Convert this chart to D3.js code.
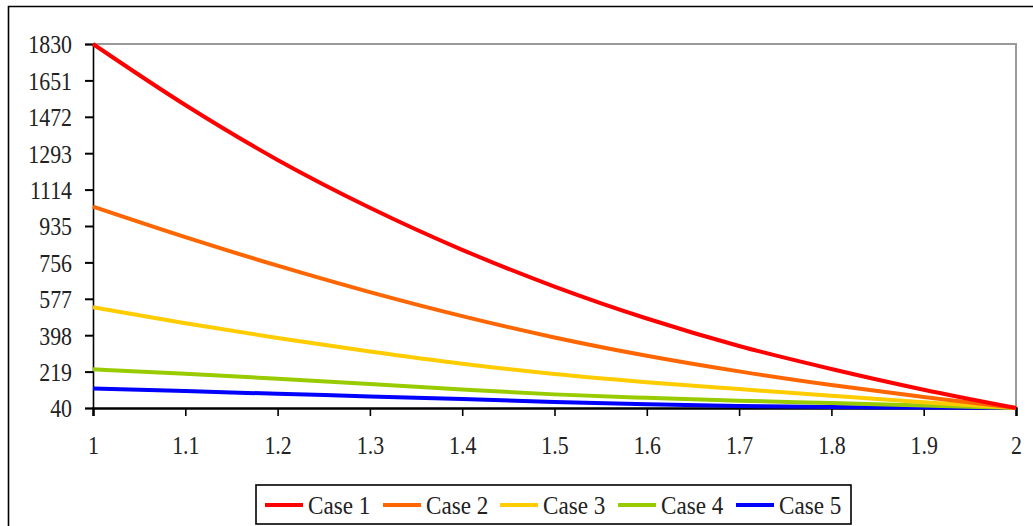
<!DOCTYPE html>
<html>
<head>
<meta charset="utf-8">
<script src="https://cdn.jsdelivr.net/npm/d3@7"></script>
<style>
  html, body { margin: 0; padding: 0; background: #fff; }
  svg { display: block; }
  text { font-family: "Liberation Serif", "Times New Roman", serif; fill: #222; }
</style>
</head>
<body>
<svg id="chart" width="1033" height="526"></svg>
<script>
// x positions and tick labels
const xValues = [1, 1.1, 1.2, 1.3, 1.4, 1.5, 1.6, 1.7, 1.8, 1.9, 2];
const xTickLabels = ["1", "1.1", "1.2", "1.3", "1.4", "1.5", "1.6", "1.7", "1.8", "1.9", "2"];
const yTickValues = [40, 219, 398, 577, 756, 935, 1114, 1293, 1472, 1651, 1830];

// series values
const seriesNames = ["Case 1", "Case 2", "Case 3", "Case 4", "Case 5"];
const case1 = [1830, 1530, 1260, 1025, 818, 637, 480, 345, 232, 130, 40];
const case2 = [1030, 880, 740, 610, 492, 387, 297, 220, 153, 94, 40];
const case3 = [535, 457, 384, 318, 258, 207, 167, 133, 100, 68, 40];
const case4 = [230, 208, 184, 158, 131, 107, 90, 76, 64, 52, 40];
const case5 = [136, 123, 110, 97, 84, 70, 58, 50, 45, 42, 40];
const seriesColors = ["#ff0000", "#ff6600", "#ffcc00", "#99cc00", "#0000ff"];

const allSeries = [case1, case2, case3, case4, case5];

const svg = d3.select("#chart");
const plot = { left: 93, right: 1016, top: 44, bottom: 408 };
const fontFamily = "Liberation Serif, Times New Roman, serif";

// outer frame (open on the right and bottom edges of the canvas)
svg.append("path")
  .attr("d", "M8.5,540 L8.5,6.5 L1040,6.5")
  .attr("fill", "none").attr("stroke", "#000").attr("stroke-width", 1.6);

const x = d3.scaleLinear().domain([1, 2]).range([plot.left, plot.right]);
const y = d3.scaleLinear().domain([40, 1830]).range([plot.bottom, plot.top]);

// grey top and right edges of the plot area
svg.append("path")
  .attr("d", `M${plot.left},${plot.top} L${plot.right},${plot.top} L${plot.right},${plot.bottom}`)
  .attr("fill", "none").attr("stroke", "#9a9a9a").attr("stroke-width", 2);

const squeeze = 0.84;

// y axis
const yAxis = svg.append("g")
  .attr("transform", `translate(${plot.left},0)`)
  .call(d3.axisLeft(y).tickValues(yTickValues).tickSize(8).tickPadding(13).tickFormat(d3.format("d")));
yAxis.select(".domain").attr("stroke", "#000").attr("stroke-width", 1.6);
yAxis.selectAll(".tick line").attr("stroke", "#000").attr("stroke-width", 2);
yAxis.selectAll(".tick text")
  .attr("font-size", 26)
  .attr("font-family", fontFamily)
  .attr("fill", "#222")
  .attr("dy", "0.34em")
  .attr("transform", function () {
    const tx = +d3.select(this).attr("x");
    return `translate(${tx * (1 - squeeze)},0) scale(${squeeze},1)`;
  });

// x axis
const xAxis = svg.append("g")
  .attr("transform", `translate(0,${plot.bottom})`)
  .call(d3.axisBottom(x).tickValues(xValues).tickSize(8).tickPadding(20)
    .tickFormat((d, i) => xTickLabels[i]));
xAxis.select(".domain").attr("stroke", "#000").attr("stroke-width", 2.4);
xAxis.selectAll(".tick line").attr("stroke", "#000").attr("stroke-width", 1.6);
xAxis.selectAll(".tick text")
  .attr("font-size", 26)
  .attr("font-family", fontFamily)
  .attr("fill", "#222")
  .attr("transform", `scale(${squeeze},1)`)
  .attr("x", 0);

// series lines
const line = d3.line()
  .x((d, i) => x(xValues[i]))
  .y(d => y(d))
  .curve(d3.curveMonotoneX);

svg.append("g").selectAll("path")
  .data(allSeries.map((values, i) => ({ values, color: seriesColors[i] })).reverse())
  .join("path")
  .attr("d", d => line(d.values))
  .attr("fill", "none")
  .attr("stroke", d => d.color)
  .attr("stroke-width", 4)
  .attr("stroke-linejoin", "round");

// legend
const legend = svg.append("g");
legend.append("rect")
  .attr("x", 256).attr("y", 485).attr("width", 595).attr("height", 39)
  .attr("fill", "#fff").attr("stroke", "#000").attr("stroke-width", 1.6);

const itemX = [265, 383, 500, 618, 736];
seriesNames.forEach((name, i) => {
  const g = legend.append("g").attr("transform", `translate(${itemX[i]},505)`);
  g.append("line")
    .attr("x1", 0).attr("x2", 38).attr("y1", 0).attr("y2", 0)
    .attr("stroke", seriesColors[i]).attr("stroke-width", 4);
  g.append("text")
    .attr("x", 0).attr("y", 0)
    .attr("dy", "0.34em")
    .attr("font-size", 26)
    .attr("font-family", fontFamily)
    .attr("transform", `translate(43,0) scale(0.89,1)`)
    .text(name);
});
</script>
</body>
</html>
